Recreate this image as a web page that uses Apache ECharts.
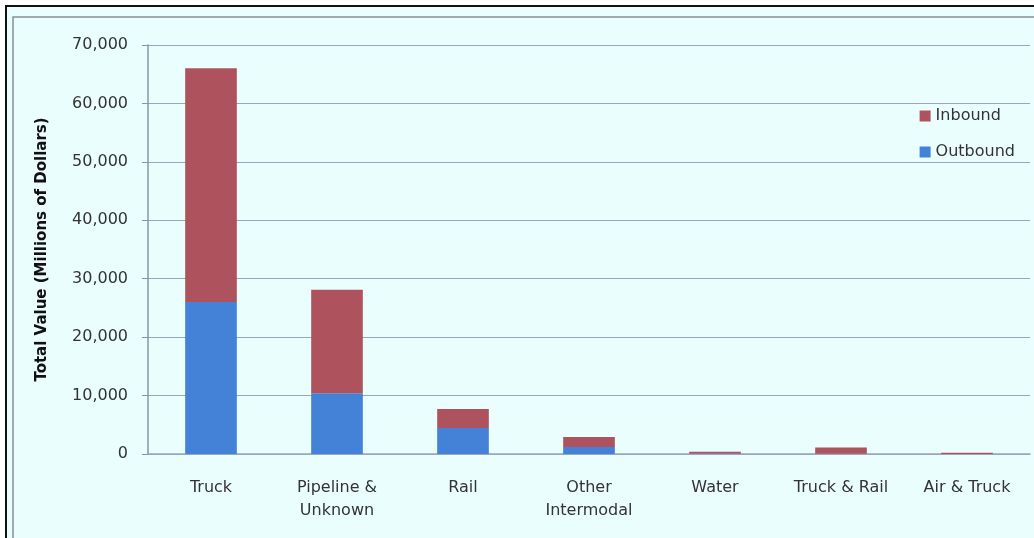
<!DOCTYPE html>
<html>
<head>
<meta charset="utf-8">
<script src="https://cdn.jsdelivr.net/npm/echarts@6/dist/echarts.min.js"></script>
<style>
  html, body { margin: 0; padding: 0; background: #fff; }
  #chart { width: 1034px; height: 538px; }
</style>
</head>
<body>
<div id="chart"></div>
<script>
// Modes of transport
const categories = ["Truck", "Pipeline &\nUnknown", "Rail", "Other\nIntermodal", "Water", "Truck & Rail", "Air & Truck"];
// Values in millions of dollars
const outbound = [26000, 10400, 4450, 1200, 100, 30, 20];
const inbound = [40000, 17700, 3250, 1700, 300, 1100, 180];
const yTicks = [0, 10000, 20000, 30000, 40000, 50000, 60000, 70000];

const font = "DejaVu Sans";
const chart = echarts.init(document.getElementById("chart"));

chart.setOption({
  animation: false,
  textStyle: { fontFamily: font },
  graphic: [
    // outer frame
    { type: "rect", z: -10, shape: { x: 6, y: 6, width: 1100, height: 600 },
      style: { fill: "#eafefe", stroke: "#111", lineWidth: 2 } },
    // inner frame
    { type: "rect", z: -9, shape: { x: 13, y: 17, width: 1100, height: 600 },
      style: { fill: "none", stroke: "#8a8f98", lineWidth: 1.5 } }
  ],
  legend: {
    orient: "vertical",
    right: 14,
    top: 103,
    itemGap: 20,
    itemWidth: 11,
    itemHeight: 11,
    icon: "rect",
    data: ["Inbound", "Outbound"],
    textStyle: { fontSize: 16, color: "#333", fontFamily: font }
  },
  grid: { left: 148, right: 4, top: 45, bottom: 84 },
  xAxis: {
    type: "category",
    data: categories,
    axisLine: { lineStyle: { color: "#9aa6bb", width: 1.5 } },
    axisTick: { length: 6, lineStyle: { color: "#8a94a8" } },
    axisLabel: { color: "#333", fontSize: 16, margin: 22, lineHeight: 23, interval: 0 }
  },
  yAxis: {
    type: "value",
    min: 0,
    max: 70000,
    interval: 10000,
    name: "Total Value (Millions of Dollars)",
    nameLocation: "middle",
    nameGap: 98,
    nameTextStyle: { fontSize: 15, fontWeight: "bold", color: "#111" },
    axisLine: { show: true, lineStyle: { color: "#8a94a8", width: 1.5 } },
    axisTick: { show: true, length: 6, lineStyle: { color: "#8a94a8" } },
    axisLabel: {
      color: "#333",
      fontSize: 16,
      margin: 20,
      formatter: v => yTicks.includes(v) ? v.toLocaleString("en-US") : ""
    },
    splitLine: { lineStyle: { color: "#9aa6bb", width: 1.2 } }
  },
  series: [
    {
      name: "Outbound",
      type: "bar",
      stack: "total",
      data: outbound,
      barWidth: "41%",
      itemStyle: { color: "#4482d8" }
    },
    {
      name: "Inbound",
      type: "bar",
      stack: "total",
      data: inbound,
      barWidth: "41%",
      itemStyle: { color: "#ae535e" }
    }
  ]
});
</script>
</body>
</html>
